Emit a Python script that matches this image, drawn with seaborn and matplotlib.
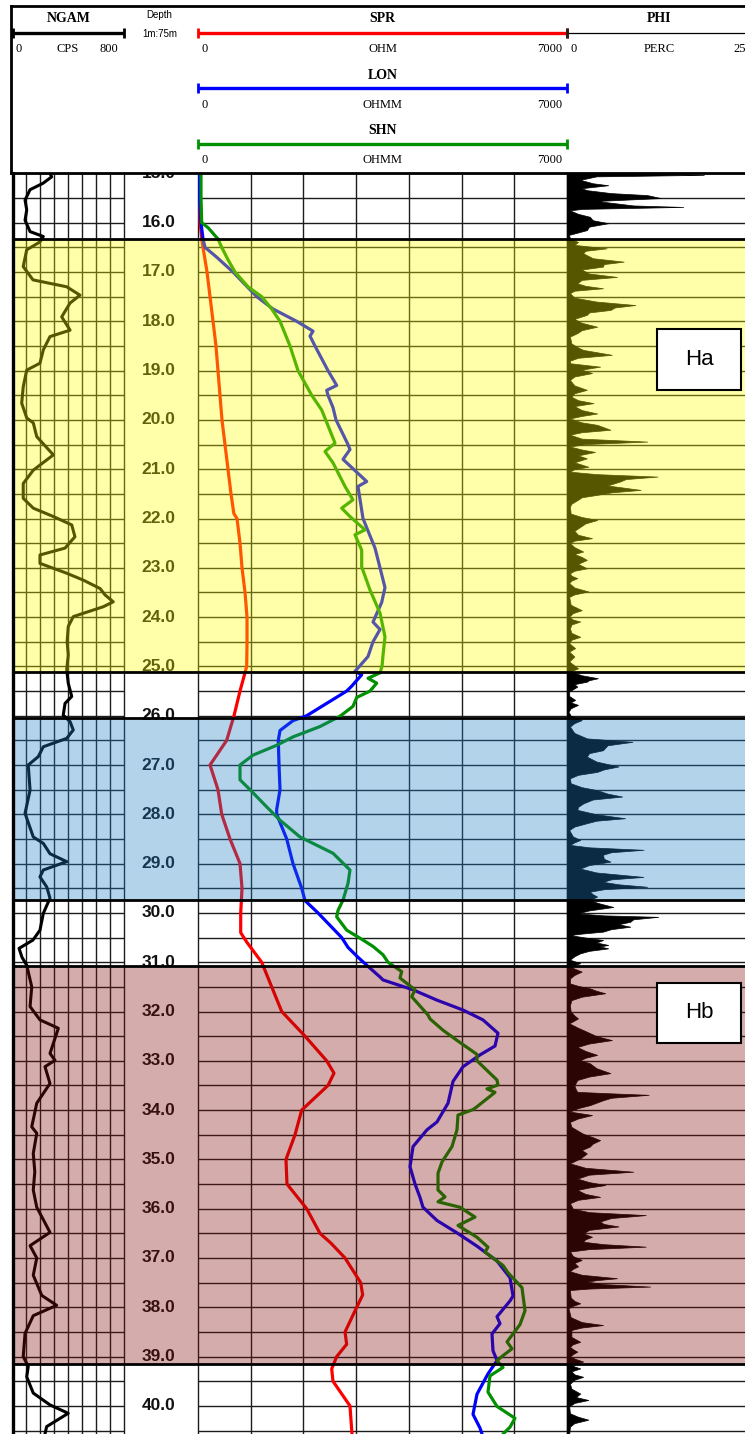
import numpy as np
import matplotlib
matplotlib.use("Agg")
import matplotlib.pyplot as plt
import matplotlib.colors as mcolors
from matplotlib.patches import Rectangle
import seaborn as sns

sns.set_theme(style="white")
plt.rcParams["font.family"] = ["Liberation Serif", "DejaVu Serif"]

# ---------------------------------------------------------------------------
# Log readings: (depth m, value)
# ---------------------------------------------------------------------------
ngam_log = [
    (15.0, 269), (15.07, 281), (15.2, 219), (15.33, 126), (15.54, 90), (15.74, 102),
    (15.95, 90), (16.18, 126), (16.28, 221), (16.39, 197), (16.55, 102), (16.89, 77),
    (17.16, 147), (17.3, 389), (17.47, 484), (17.63, 413), (17.91, 353), (18.18, 413),
    (18.31, 269), (18.58, 221), (18.85, 197), (18.99, 102), (19.33, 77), (19.66, 66),
    (19.96, 102), (20.06, 149), (20.34, 174), (20.71, 293), (21.02, 149), (21.29, 77),
    (21.59, 77), (21.79, 149), (21.96, 293), (22.13, 425), (22.37, 448), (22.6, 377),
    (22.74, 197), (22.91, 197), (23.11, 389), (23.25, 508), (23.42, 628), (23.55, 664),
    (23.69, 723), (23.79, 651), (23.99, 436), (24.19, 400), (24.5, 392), (24.77, 400),
    (25.07, 389), (25.34, 400), (25.61, 425), (25.75, 377), (25.99, 364), (26.12, 413),
    (26.29, 436), (26.46, 389), (26.63, 221), (26.83, 185), (27.0, 113), (27.51, 126),
    (27.98, 90), (28.46, 149), (28.59, 221), (28.8, 269), (28.96, 389), (29.13, 221),
    (29.27, 197), (29.47, 245), (29.7, 269), (30.01, 221), (30.35, 197), (30.55, 147),
    (30.72, 47), (30.9, 68), (31.06, 102), (31.5, 138), (31.9, 126), (32.17, 197),
    (32.34, 329), (32.85, 269), (32.99, 305), (33.12, 233), (33.46, 269), (33.86, 174),
    (34.34, 138), (34.47, 174), (34.88, 149), (35.25, 160), (35.62, 149), (35.97, 174),
    (36.48, 269), (36.75, 126), (37.0, 174), (37.35, 149), (37.76, 210), (37.96, 317),
    (38.17, 149), (38.53, 90), (39.0, 77), (39.2, 113), (39.41, 102), (39.74, 149),
    (39.98, 269), (40.15, 400), (40.42, 245), (40.57, 233),
]

spr_log = [
    (15.0, 30), (15.5, 30), (16.0, 40), (16.4, 80), (17.0, 171), (17.5, 228), (18.0, 285),
    (18.5, 341), (19.0, 379), (19.5, 417), (20.0, 455), (20.5, 512), (21.0, 569),
    (21.5, 626), (21.9, 680), (22.0, 740), (22.5, 797), (23.0, 835), (23.5, 892),
    (24.0, 930), (24.5, 930), (25.0, 924), (25.5, 797), (26.0, 683), (26.5, 544),
    (26.8, 355), (27.0, 228), (27.5, 379), (28.0, 450), (28.5, 607), (29.0, 797),
    (29.5, 835), (30.0, 810), (30.4, 810), (30.6, 930), (31.0, 1208), (31.5, 1398),
    (32.0, 1588), (32.5, 2030), (33.0, 2441), (33.25, 2580), (33.5, 2466), (34.0, 1967),
    (34.5, 1840), (35.0, 1669), (35.5, 1688), (36.0, 2062), (36.5, 2314), (36.7, 2523),
    (37.0, 2789), (37.5, 3086), (37.75, 3124), (38.0, 3010), (38.5, 2789), (38.75, 2820),
    (39.0, 2631), (39.25, 2536), (39.5, 2561), (40.0, 2883), (40.57, 2921),
]

lon_log = [
    (15.0, 19), (15.5, 28), (16.0, 57), (16.33, 95), (16.5, 133), (16.7, 355), (17.0, 664),
    (17.5, 1114), (17.75, 1423), (18.0, 1872), (18.2, 2182), (18.3, 2125), (18.5, 2219),
    (19.0, 2466), (19.3, 2631), (19.4, 2441), (19.5, 2466), (19.75, 2561), (20.0, 2618),
    (20.5, 2846), (20.6, 2883), (20.8, 2751), (21.25, 3200), (21.35, 3035), (22.0, 3130),
    (22.2, 3206), (22.6, 3358), (23.0, 3453), (23.4, 3547), (23.7, 3485), (24.1, 3320),
    (24.25, 3453), (24.5, 3320), (24.8, 3225), (25.1, 2978), (25.17, 3105), (25.4, 2916),
    (25.5, 2821), (25.75, 2441), (26.0, 2062), (26.1, 1802), (26.3, 1556), (26.5, 1523),
    (27.0, 1537), (27.5, 1556), (27.9, 1493), (28.0, 1493), (28.5, 1683), (29.0, 1802),
    (29.5, 1967), (29.75, 2030), (30.0, 2276), (30.5, 2726), (30.7, 2846), (30.9, 3035),
    (31.12, 3263), (31.3, 3453), (31.36, 3510), (31.56, 4079), (31.77, 4534),
    (31.97, 5027), (32.17, 5406), (32.44, 5691), (32.7, 5634), (32.88, 5350),
    (33.12, 5027), (33.42, 4837), (33.86, 4743), (34.24, 4534), (34.4, 4344),
    (34.74, 4079), (35.15, 4022), (35.5, 4117), (35.77, 4211), (35.97, 4268),
    (36.24, 4534), (36.49, 4913), (36.76, 5293), (37.06, 5672), (37.4, 5919),
    (37.77, 5976), (37.87, 5919), (38.19, 5672), (38.33, 5729), (38.54, 5577),
    (38.88, 5596), (39.08, 5672), (39.35, 5501), (39.76, 5293), (40.17, 5217),
    (40.45, 5350), (40.57, 5388),
]

shn_log = [
    (15.0, 57), (15.5, 57), (16.0, 70), (16.1, 190), (16.33, 379), (16.5, 450),
    (16.75, 569), (17.0, 702), (17.3, 949), (17.5, 1208), (17.75, 1398), (18.0, 1556),
    (18.5, 1745), (19.0, 1897), (19.5, 2157), (19.8, 2347), (20.47, 2599), (20.64, 2409),
    (20.87, 2561), (21.35, 2789), (21.62, 2940), (21.79, 2726), (21.96, 2883),
    (22.23, 3168), (22.33, 2978), (22.64, 3105), (22.98, 3105), (23.45, 3263),
    (23.92, 3453), (24.4, 3547), (24.77, 3510), (25.0, 3491), (25.13, 3453),
    (25.24, 3225), (25.34, 3390), (25.5, 3263), (25.63, 3011), (25.81, 2940),
    (26.01, 2694), (26.22, 2314), (26.43, 1802), (26.6, 1493), (26.8, 1043), (27.0, 797),
    (27.3, 797), (27.5, 986), (27.85, 1303), (28.12, 1556), (28.46, 1935), (28.79, 2561),
    (29.13, 2883), (29.4, 2846), (29.74, 2751), (29.95, 2656), (30.08, 2631),
    (30.35, 2821), (30.55, 3130), (30.68, 3320), (30.85, 3510), (31.0, 3604),
    (31.19, 3864), (31.32, 3832), (31.56, 4117), (31.7, 4054), (32.07, 4363),
    (32.15, 4401), (32.38, 4648), (32.6, 4932), (32.87, 5293), (33.0, 5293),
    (33.39, 5672), (33.49, 5691), (33.57, 5482), (33.64, 5634), (33.93, 5293),
    (33.99, 5217), (34.1, 4932), (34.4, 4913), (34.74, 4818), (35.05, 4629),
    (35.28, 4553), (35.62, 4553), (35.76, 4686), (35.86, 4553), (35.97, 4970),
    (36.17, 5255), (36.34, 4932), (36.58, 5293), (36.78, 5501), (36.88, 5444),
    (37.15, 5786), (37.3, 5881), (37.6, 6146), (38.07, 6203), (38.35, 6108),
    (38.7, 5862), (38.84, 5957), (38.98, 5786), (39.08, 5672), (39.22, 5786),
    (39.39, 5539), (39.72, 5501), (40.01, 5672), (40.25, 6013), (40.43, 5919),
    (40.57, 5786),
]

phi_log = [
    (15.00, 12.0), (15.03, 18.6), (15.06, 4.0), (15.13, 1.8), (15.20, 3.5), (15.24, 5.6),
    (15.30, 2.0), (15.34, 2.7), (15.40, 6.0), (15.44, 10.9), (15.50, 12.7), (15.56, 4.0),
    (15.61, 6.8), (15.65, 9.0), (15.68, 15.8), (15.72, 2.0), (15.75, 0.4), (15.82, 1.5),
    (15.88, 3.1), (15.95, 3.5), (16.01, 5.6), (16.08, 3.0), (16.15, 2.7), (16.25, 0.2),
    (16.33, 0.5), (16.39, 1.5), (16.45, 1.0), (16.52, 5.4), (16.57, 2.5), (16.62, 2.2),
    (16.72, 3.5), (16.79, 7.7), (16.84, 5.0), (16.89, 4.9), (16.95, 2.0), (17.03, 3.0),
    (17.10, 6.8), (17.16, 2.0), (17.23, 1.4), (17.28, 2.5), (17.33, 4.9), (17.38, 1.0),
    (17.43, 0.4), (17.52, 1.0), (17.60, 4.0), (17.67, 9.3), (17.72, 6.5), (17.77, 5.9),
    (17.82, 3.0), (17.87, 2.7), (17.95, 1.0), (18.03, 2.0), (18.11, 4.1), (18.18, 2.0),
    (18.24, 1.4), (18.31, 0.4), (18.45, 0.6), (18.53, 1.5), (18.58, 2.2), (18.68, 6.1),
    (18.74, 1.5), (18.80, 0.4), (18.85, 0.4), (18.92, 4.5), (18.98, 2.0), (19.05, 3.4),
    (19.12, 1.0), (19.19, 0.4), (19.30, 1.0), (19.39, 2.7), (19.46, 1.0), (19.53, 0.6),
    (19.60, 1.5), (19.66, 3.6), (19.72, 1.0), (19.80, 2.0), (19.87, 4.1), (19.92, 2.0),
    (19.97, 0.4), (20.05, 2.0), (20.10, 4.1), (20.20, 5.9), (20.25, 2.0), (20.30, 0.4),
    (20.38, 2.0), (20.44, 10.9), (20.49, 2.5), (20.54, 0.4), (20.60, 2.0), (20.65, 3.8),
    (20.72, 1.5), (20.78, 2.7), (20.86, 1.0), (20.95, 2.9), (21.00, 1.0), (21.05, 0.4),
    (21.10, 4.0), (21.15, 12.3), (21.20, 8.0), (21.25, 7.2), (21.33, 5.5), (21.42, 10.0),
    (21.47, 6.0), (21.52, 4.1), (21.57, 2.0), (21.62, 1.5), (21.70, 0.6), (21.76, 0.4),
    (21.90, 0.5), (21.97, 2.0), (22.03, 4.1), (22.10, 2.5), (22.17, 1.8), (22.25, 1.0),
    (22.33, 1.5), (22.40, 3.4), (22.45, 1.0), (22.50, 0.4), (22.58, 1.0), (22.67, 2.2),
    (22.72, 1.0), (22.78, 2.0), (22.84, 2.7), (22.92, 1.5), (23.01, 2.7), (23.06, 1.0),
    (23.11, 0.4), (23.16, 0.6), (23.21, 1.4), (23.26, 0.6), (23.31, 0.3), (23.40, 1.0),
    (23.48, 2.9), (23.54, 1.0), (23.59, 0.3), (23.75, 0.5), (23.86, 2.0), (23.92, 0.8),
    (23.99, 0.3), (24.05, 0.8), (24.09, 1.8), (24.15, 0.6), (24.23, 0.4), (24.32, 0.6),
    (24.40, 1.8), (24.46, 0.6), (24.53, 0.3), (24.63, 1.1), (24.70, 0.3), (24.80, 1.0),
    (24.90, 0.3), (25.04, 1.5), (25.10, 0.5), (25.18, 2.0), (25.24, 4.2), (25.28, 3.0),
    (25.31, 2.7), (25.36, 1.0), (25.41, 1.4), (25.51, 0.3), (25.60, 0.3), (25.68, 1.1),
    (25.73, 0.5), (25.78, 1.5), (25.85, 0.5), (25.92, 0.2), (26.00, 0.5), (26.09, 2.0),
    (26.15, 1.0), (26.22, 0.4), (26.35, 1.0), (26.46, 2.7), (26.53, 8.9), (26.60, 5.5),
    (26.70, 4.9), (26.76, 3.0), (26.83, 2.7), (26.93, 4.0), (27.03, 7.0), (27.09, 5.0),
    (27.14, 4.1), (27.20, 1.5), (27.27, 0.4), (27.37, 0.5), (27.45, 2.0), (27.51, 4.1),
    (27.58, 5.5), (27.64, 7.5), (27.70, 3.5), (27.78, 2.2), (27.85, 1.5), (27.91, 1.4),
    (28.00, 4.0), (28.08, 7.9), (28.13, 4.0), (28.18, 2.7), (28.25, 1.0), (28.32, 0.3),
    (28.45, 0.8), (28.52, 1.8), (28.57, 1.0), (28.62, 0.4), (28.67, 3.0), (28.72, 10.4),
    (28.77, 6.0), (28.82, 4.9), (28.90, 5.0), (28.96, 5.9), (29.03, 3.0), (29.10, 1.8),
    (29.18, 4.0), (29.27, 10.4), (29.32, 6.0), (29.37, 4.9), (29.42, 7.0), (29.47, 10.9),
    (29.52, 5.0), (29.57, 3.1), (29.62, 3.5), (29.67, 4.1), (29.74, 3.0), (29.81, 4.5),
    (29.88, 6.3), (29.95, 3.0), (30.01, 1.4), (30.05, 5.0), (30.08, 12.4), (30.13, 9.0),
    (30.18, 8.6), (30.23, 7.0), (30.28, 8.6), (30.33, 6.0), (30.38, 4.9), (30.42, 2.0),
    (30.45, 0.4), (30.50, 2.5), (30.55, 4.9), (30.60, 4.0), (30.65, 5.6), (30.68, 4.5),
    (30.72, 5.6), (30.77, 3.0), (30.82, 1.8), (30.88, 1.0), (30.95, 0.4), (31.02, 1.8),
    (31.08, 0.5), (31.13, 1.0), (31.19, 2.0), (31.26, 1.0), (31.33, 0.4), (31.43, 0.4),
    (31.48, 1.5), (31.53, 3.1), (31.58, 4.0), (31.63, 5.2), (31.70, 2.0), (31.77, 0.6),
    (31.87, 0.4), (32.00, 0.5), (32.08, 1.0), (32.14, 1.5), (32.20, 0.8), (32.24, 0.3),
    (32.33, 1.5), (32.41, 2.7), (32.50, 4.0), (32.58, 6.1), (32.65, 3.0), (32.72, 1.4),
    (32.80, 2.5), (32.88, 4.1), (32.94, 2.5), (32.99, 1.8), (33.05, 3.1), (33.15, 4.0),
    (33.25, 5.9), (33.32, 3.0), (33.39, 1.4), (33.50, 1.0), (33.58, 1.2), (33.63, 1.4),
    (33.66, 6.0), (33.69, 11.1), (33.75, 6.0), (33.80, 4.9), (33.90, 3.1), (33.96, 1.5),
    (34.03, 0.4), (34.10, 3.4), (34.17, 1.5), (34.24, 0.4), (34.34, 0.6), (34.42, 1.5),
    (34.48, 2.2), (34.55, 3.5), (34.61, 4.5), (34.68, 3.5), (34.74, 3.1), (34.81, 2.0),
    (34.88, 2.7), (34.98, 1.8), (35.08, 0.4), (35.17, 2.5), (35.25, 9.0), (35.31, 3.0),
    (35.39, 1.4), (35.46, 3.0), (35.52, 5.2), (35.57, 3.0), (35.62, 1.4), (35.70, 2.5),
    (35.76, 4.5), (35.82, 1.5), (35.89, 0.4), (36.00, 0.8), (36.07, 3.0), (36.13, 10.7),
    (36.19, 6.0), (36.26, 4.5), (36.31, 5.0), (36.36, 7.0), (36.43, 3.0), (36.50, 2.2),
    (36.57, 3.4), (36.62, 2.5), (36.67, 2.2), (36.72, 5.0), (36.77, 10.7), (36.82, 3.0),
    (36.87, 0.4), (36.96, 0.8), (37.04, 2.0), (37.10, 1.0), (37.17, 1.5), (37.22, 0.8),
    (37.27, 0.4), (37.34, 2.0), (37.41, 6.8), (37.45, 4.0), (37.48, 2.7), (37.53, 5.0),
    (37.58, 11.3), (37.62, 3.0), (37.65, 0.4), (37.80, 0.5), (37.87, 1.0), (37.92, 1.8),
    (37.97, 0.8), (38.02, 0.2), (38.20, 0.5), (38.30, 2.0), (38.36, 4.9), (38.41, 2.0),
    (38.46, 0.6), (38.60, 0.6), (38.65, 1.2), (38.70, 1.8), (38.75, 0.8), (38.80, 0.4),
    (38.85, 0.8), (38.90, 1.4), (38.95, 0.8), (39.00, 0.4), (39.05, 1.2), (39.10, 2.2),
    (39.16, 0.6), (39.20, 1.0), (39.24, 1.8), (39.30, 0.6), (39.36, 1.0), (39.41, 2.2),
    (39.47, 1.0), (39.55, 0.4), (39.65, 0.6), (39.70, 1.2), (39.75, 1.8), (39.82, 1.2),
    (39.88, 2.9), (39.94, 1.0), (40.01, 0.3), (40.15, 0.4), (40.22, 1.5), (40.28, 2.9),
    (40.35, 1.0), (40.42, 0.4), (40.57, 0.3),
]

# Interpreted intervals
zone_top = [16.33, 26.04, 31.08]
zone_base = [25.11, 29.74, 39.16]
zone_colour = ["#FFFFAA", "#B4D3EC", "#D4ADAD"]

unit_label = ["Ha", "Hb"]
unit_label_top = [18.16, 31.42]
unit_label_base = [19.40, 32.64]

# Track scales and header captions
ngam_scale = (0, 800)
res_scale = (0, 7000)
phi_scale = (0, 25)
res_names = ["SPR", "LON", "SHN"]
res_units = ["OHM", "OHMM", "OHMM"]
res_colours = ["#FF0000", "#0000FF", "#009000"]

# ---------------------------------------------------------------------------
# Figure geometry (pixels)
# ---------------------------------------------------------------------------
W, H, DPI = 745, 1434, 100
fig = plt.figure(figsize=(W / DPI, H / DPI), dpi=DPI, facecolor="white")

HDR_TOP = 6.2
LOG_TOP = 173.4
PX_PER_M = 49.3
DEPTH_TOP = 15.0
DEPTH_BASE = DEPTH_TOP + (H - LOG_TOP) / PX_PER_M

COL_NGAM = (12.5, 124.0)
COL_DEPTH = (124.0, 198.0)
COL_RES = (198.0, 567.0)
COL_PHI = (567.0, 751.0)

GRID_C = "#1c1c1c"
ZONE_ALPHA = 0.34


def px_axes(x0, y0, x1, y1, zorder=0):
    ax = fig.add_axes([x0 / W, 1 - y1 / H, (x1 - x0) / W, (y1 - y0) / H])
    ax.set_zorder(zorder)
    ax.set_facecolor("none")
    ax.set_xticks([])
    ax.set_yticks([])
    for s in ax.spines.values():
        s.set_visible(False)
    return ax


def track_axes(col, scale):
    ax = px_axes(col[0], LOG_TOP, col[1], H, zorder=1)
    ax.set_xlim(*scale)
    ax.set_ylim(DEPTH_BASE, DEPTH_TOP)
    return ax


def depth_grid(ax):
    for d in np.arange(DEPTH_TOP, DEPTH_BASE, 0.5):
        ax.axhline(d, color=GRID_C, lw=1.0, zorder=1)


def value_grid(ax, ticks):
    for v in ticks:
        ax.axvline(v, color=GRID_C, lw=1.0, zorder=1, clip_on=False)


def log_curve(ax, log, colour, lw=2.3):
    depth, value = (list(t) for t in zip(*log))
    sns.lineplot(x=value, y=depth, orient="y", sort=False, estimator=None,
                 color=colour, lw=lw, ax=ax, zorder=2)
    ax.set_xlabel("")
    ax.set_ylabel("")


# ---------------------------------------------------------------------------
# Tracks
# ---------------------------------------------------------------------------
ax_ng = track_axes(COL_NGAM, ngam_scale)
ax_dp = track_axes(COL_DEPTH, (0, 1))
ax_rs = track_axes(COL_RES, res_scale)
ax_ph = track_axes(COL_PHI, phi_scale)

for ax in (ax_ng, ax_rs, ax_ph):
    depth_grid(ax)
value_grid(ax_ng, np.arange(ngam_scale[0], ngam_scale[1] + 1, 100))
value_grid(ax_rs, np.arange(res_scale[0], res_scale[1] + 1, 1000))
value_grid(ax_ph, [phi_scale[0]])

log_curve(ax_ng, ngam_log, "black", lw=2.2)
for log, colour in zip([spr_log, lon_log, shn_log], res_colours):
    log_curve(ax_rs, log, colour)

phi_d, phi_v = (np.array(t) for t in zip(*phi_log))
ax_ph.fill_betweenx(phi_d, 0, phi_v, color="black", lw=0.5, zorder=2)

for ax, scale in ((ax_ng, ngam_scale), (ax_dp, (0, 1)), (ax_rs, res_scale), (ax_ph, phi_scale)):
    ax.set_xlim(*scale)
    ax.set_ylim(DEPTH_BASE, DEPTH_TOP)

for d in np.arange(15, 41, 1):
    ax_dp.text(0.47, d, f"{d:.1f}", ha="center", va="center", fontsize=12.5,
               fontweight="bold", family=["Liberation Sans", "DejaVu Sans"],
               color="#111111", zorder=3, clip_on=True)

# ---------------------------------------------------------------------------
# Interval shading, boundaries and labels on top of the tracks
# ---------------------------------------------------------------------------
def tint(hexcol):
    rgb = np.array(mcolors.to_rgb(hexcol))
    return tuple(np.clip(1 - (1 - rgb) / ZONE_ALPHA, 0, 1))


ax_zone = px_axes(COL_NGAM[0], LOG_TOP, COL_PHI[1], H, zorder=5)
ax_zone.set_xlim(0, 1)
ax_zone.set_ylim(DEPTH_BASE, DEPTH_TOP)
for top, base, col in zip(zone_top, zone_base, zone_colour):
    ax_zone.axhspan(top, base, color=tint(col), alpha=ZONE_ALPHA, lw=0, zorder=1)
    ax_zone.axhline(top, color="black", lw=2.0, zorder=2)
    ax_zone.axhline(base, color="black", lw=2.0, zorder=2)
ax_zone.axvline(0, color="black", lw=2.4, zorder=3, clip_on=False)

span = COL_PHI[1] - COL_NGAM[0]
box_x0 = (657 - COL_NGAM[0]) / span
box_w = (741 - 657) / span
for name, top, base in zip(unit_label, unit_label_top, unit_label_base):
    ax_zone.add_patch(Rectangle((box_x0, top), box_w, base - top, facecolor="white",
                                edgecolor="black", lw=1.5, zorder=6))
    ax_zone.text(box_x0 + box_w / 2, (top + base) / 2, name, ha="center", va="center",
                 fontsize=16, family=["Liberation Sans", "DejaVu Sans"], color="black",
                 zorder=7)

# ---------------------------------------------------------------------------
# Header
# ---------------------------------------------------------------------------
def header_axes(col, scale):
    ax = px_axes(col[0], HDR_TOP, col[1], LOG_TOP, zorder=2)
    ax.set_xlim(*scale)
    ax.set_ylim(LOG_TOP, HDR_TOP)
    return ax


def htext(ax, fx, y, s, ha="center", bold=False, size=9, family=None):
    ax.text(fx, y, s, transform=ax.get_yaxis_transform(), ha=ha, va="center",
            fontsize=size, fontweight="bold" if bold else "normal",
            family=family or ["Liberation Serif", "DejaVu Serif"], color="black")


def scale_bar(ax, scale, y, colour, lw=2.4, caps=(True, True), cap_colour=None):
    lo, hi = scale
    ax.plot([lo, hi], [y, y], color=colour, lw=lw, solid_capstyle="butt", clip_on=False)
    ends = [v for v, c in zip((lo, hi), caps) if c]
    ax.plot(ends, [y] * len(ends), ls="none", marker="|", ms=7, mew=2.0,
            color=cap_colour or colour, clip_on=False)


h_ng = header_axes(COL_NGAM, ngam_scale)
htext(h_ng, 0.5, 19, "NGAM", bold=True, size=10)
scale_bar(h_ng, ngam_scale, 33.3, "black")
htext(h_ng, 0.03, 49.5, f"{ngam_scale[0]}", ha="left")
htext(h_ng, 0.49, 49.5, "CPS")
htext(h_ng, 0.95, 49.5, f"{ngam_scale[1]}", ha="right")

h_dp = header_axes(COL_DEPTH, (0, 1))
htext(h_dp, 0.48, 15, "Depth", size=7, family=["Liberation Sans", "DejaVu Sans"])
htext(h_dp, 0.48, 34, "1m:75m", size=7, family=["Liberation Sans", "DejaVu Sans"])

h_rs = header_axes(COL_RES, res_scale)
rows = [(19, 33.3, 49.5), (76, 88.3, 105.3), (131, 144, 160.3)]
for name, unit, colour, (ty, by, ly) in zip(res_names, res_units, res_colours, rows):
    htext(h_rs, 0.5, ty, name, bold=True, size=10)
    scale_bar(h_rs, res_scale, by, colour)
    htext(h_rs, 0.01, ly, f"{res_scale[0]}", ha="left")
    htext(h_rs, 0.5, ly, unit)
    htext(h_rs, 0.987, ly, f"{res_scale[1]}", ha="right")

h_ph = header_axes(COL_PHI, phi_scale)
htext(h_ph, 0.5, 19, "PHI", bold=True, size=10)
scale_bar(h_ph, phi_scale, 33.3, "black", lw=0.9, caps=(True, False), cap_colour="#202020")
htext(h_ph, 0.017, 49.5, f"{phi_scale[0]}", ha="left")
htext(h_ph, 0.5, 49.5, "PERC")
htext(h_ph, 0.97, 49.5, f"{phi_scale[1]}", ha="right")

frame = px_axes(11.3, HDR_TOP, 800, LOG_TOP, zorder=6)
for s in frame.spines.values():
    s.set_visible(True)
    s.set_linewidth(2.0)
    s.set_color("black")

fig.savefig("out.png", dpi=DPI, facecolor="white")
